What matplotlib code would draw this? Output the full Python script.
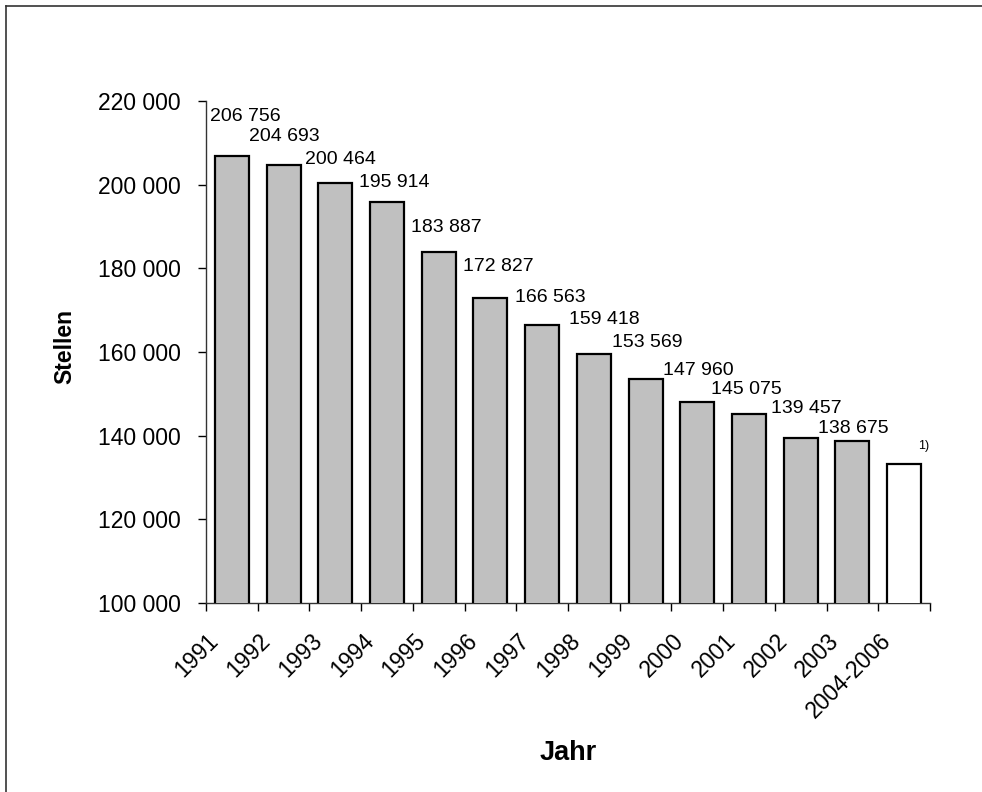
import matplotlib.pyplot as plt
import matplotlib.transforms as mtransforms
from matplotlib.lines import Line2D
import numpy as np

plt.rcParams['font.family'] = ['Liberation Sans', 'DejaVu Sans']

# Stellen je Jahr
jahre = ["1991", "1992", "1993", "1994", "1995", "1996", "1997",
         "1998", "1999", "2000", "2001", "2002", "2003", "2004-2006"]
stellen = [206756, 204693, 200464, 195914, 183887, 172827, 166563,
           159418, 153569, 147960, 145075, 139457, 138675, 133200]
fussnote = "1)"

# Lage der Beschriftungen relativ zur Balkenmitte / -oberkante (Pixel)
lab_dx = [13, 1, 5, 7, 8, 8, 8, 10, 2, 1, -3, 6, 1, 19]
lab_dy = [40, 29, 23, 19, 25, 32, 27, 35, 36, 32, 25, 29, 13, 18]

W, H = 982, 792
fig = plt.figure(figsize=(W / 100, H / 100), dpi=100)
ax = fig.add_axes([206 / W, 1 - 603 / H, (930 - 206) / W, (603 - 101) / H])

x = np.arange(len(jahre))
farben = ["#C0C0C0"] * (len(jahre) - 1) + ["white"]
ax.bar(x, stellen, width=0.66, color=farben, edgecolor="black", linewidth=1.6, zorder=3)

px = 0.72  # Pixel -> Punkt bei 100 dpi
for i, v in enumerate(stellen):
    if i == len(stellen) - 1:
        txt, fs = fussnote, 9
    else:
        txt, fs = "{:,}".format(v).replace(",", " "), 14
    ax.annotate(txt, (x[i], v), xytext=(lab_dx[i] * px, lab_dy[i] * px),
                textcoords="offset points", ha="center", va="center",
                fontsize=fs, annotation_clip=False)

ax.set_xlim(-0.5, len(jahre) - 0.5)
ax.set_ylim(100000, 220000)
ax.set_yticks(np.arange(100000, 220001, 20000))
ax.set_yticklabels(["{:,}".format(t).replace(",", " ") for t in range(100000, 220001, 20000)],
                   fontsize=16.5)
ax.tick_params(axis="y", length=6, width=1, pad=12)

ax.set_xticks(x)
ax.set_xticklabels(jahre, rotation=45, ha="right", va="top", rotation_mode="anchor", fontsize=16.5)
ax.tick_params(axis="x", which="major", length=0, pad=16)
ax.set_xticks(np.arange(-0.5, len(jahre)), minor=True)
ax.tick_params(axis="x", which="minor", length=6, width=1)
verschiebung = mtransforms.ScaledTranslation(-25 / 100, -4 / 100, fig.dpi_scale_trans)
for lab in ax.get_xticklabels():
    lab.set_transform(lab.get_transform() + verschiebung)

for s in ["top", "right"]:
    ax.spines[s].set_visible(False)
for s in ["left", "bottom"]:
    ax.spines[s].set_linewidth(1)
    ax.spines[s].set_color("#333333")

fig.text(65 / W, 1 - 347 / H, "Stellen", rotation=90, ha="center", va="center",
         fontsize=16.5, fontweight="bold")
fig.text(568 / W, 1 - 753 / H, "Jahr", ha="center", va="center",
         fontsize=19.5, fontweight="bold")

# Rahmen (nur links und oben sichtbar)
fig.add_artist(Line2D([5.5 / W, 5.5 / W], [0, 1 - 5.5 / H], transform=fig.transFigure,
                      color="#333333", linewidth=1.2))
fig.add_artist(Line2D([5.5 / W, 1], [1 - 5.5 / H, 1 - 5.5 / H], transform=fig.transFigure,
                      color="#333333", linewidth=1.2))

fig.savefig("out.png", dpi=100)
